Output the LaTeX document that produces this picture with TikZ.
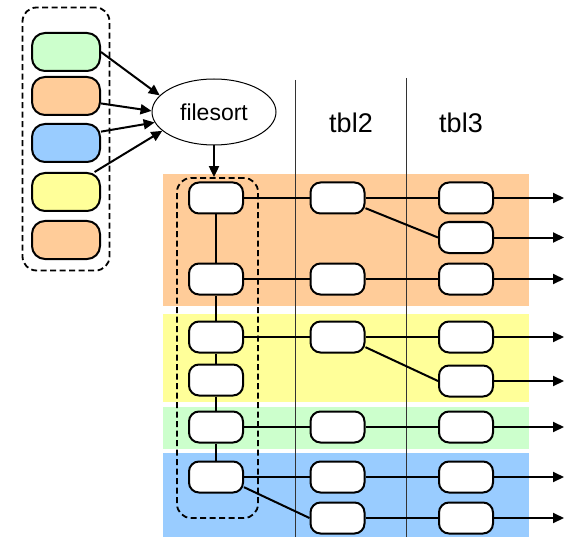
\documentclass[tikz,border=0pt]{standalone}
\usepackage{fontspec}
\setmainfont{Liberation Sans}
\usetikzlibrary{arrows.meta,shapes.geometric}
\definecolor{cgreen}{HTML}{CCFFCC}
\definecolor{corange}{HTML}{FFCC99}
\definecolor{cblue}{HTML}{99CCFF}
\definecolor{cyellow}{HTML}{FFFF99}
\tikzset{
  pill/.style={draw, line width=2pt, rounded corners=13pt, minimum width=68pt, minimum height=38pt, inner sep=0pt},
  row/.style={draw, line width=2pt, fill=white, rounded corners=10pt, minimum width=54pt, minimum height=31pt, inner sep=0pt},
  link/.style={line width=2pt},
  arr/.style={line width=2pt, -{Triangle[length=11pt,width=10pt]}},
  group/.style={draw, line width=1.8pt, dash pattern=on 6pt off 3.5pt, rounded corners=14pt},
  sep/.style={line width=1pt, draw=black!80},
}
\begin{document}
\begin{tikzpicture}[x=1pt, y=-1pt]
\useasboundingbox (0,0) rectangle (564,537);

% colour bands behind the rows
\fill[corange] (163,174) rectangle (529,306);
\fill[cyellow] (163,314) rectangle (529,402);
\fill[cgreen]  (163,407) rectangle (529,449);
\fill[cblue]   (163,453) rectangle (529,537);

% table column separators
\draw[sep] (295,80) -- (295,537);
\draw[sep] (406,78) -- (406,537);
\node[font=\fontsize{27}{30}\selectfont] (t2) at (351,123) {tbl2};
\node[font=\fontsize{27}{30}\selectfont] (t3) at (461,123) {tbl3};

% input runs
\node[group, minimum width=87pt, minimum height=263pt] (inbox) at (66,139) {};
\node[pill, fill=cgreen]  (p1) at (66,52)  {};
\node[pill, fill=corange] (p2) at (66,96)  {};
\node[pill, fill=cblue]   (p3) at (66,143) {};
\node[pill, fill=cyellow] (p4) at (66,192) {};
\node[pill, fill=corange] (p5) at (66,240) {};

\node[draw, ellipse, line width=1pt, minimum width=124pt, minimum height=66pt, inner sep=0pt,
      font=\fontsize{23}{26}\selectfont] (fs) at (214,112) {filesort};

\draw[arr] (p1.east) -- (fs.163);
\draw[arr] (p2.-12) -- (fs.179);
\draw[arr] (p3.18) -- (fs.190);
\draw[arr] (p4.35) -- (fs.200);

% sorted group
\node[group, minimum width=81pt, minimum height=340pt] (sbox) at (217.5,348) {};

\node[row] (a1) at (216,198) {};
\node[row] (a2) at (216,279) {};
\node[row] (a3) at (216,337) {};
\node[row] (a4) at (216,380) {};
\node[row] (a5) at (216,427) {};
\node[row] (a6) at (216,477) {};

\node[row] (b1) at (337.5,198) {};
\node[row] (b2) at (337.5,279) {};
\node[row] (b3) at (337.5,337) {};
\node[row] (b4) at (337.5,427) {};
\node[row] (b5) at (337.5,477) {};
\node[row] (b6) at (337.5,518) {};

\node[row] (c1) at (466,198) {};
\node[row] (c2) at (466,237.5) {};
\node[row] (c3) at (466,279) {};
\node[row] (c4) at (466,337) {};
\node[row] (c5) at (466,381) {};
\node[row] (c6) at (466,427) {};
\node[row] (c7) at (466,477) {};
\node[row] (c8) at (466,518) {};

\draw[arr] (fs.south) -- (sbox.north -| fs.south);

\draw[link] (a1) -- (a2) -- (a3) -- (a4) -- (a5) -- (a6);
\draw[link] (a1) -- (b1) -- (c1);
\draw[link] (b1.-20) -- (c2.west);
\draw[link] (a2) -- (b2) -- (c3);
\draw[link] (a3) -- (b3) -- (c4);
\draw[link] (b3.-20) -- (c5.west);
\draw[link] (a5) -- (b4) -- (c6);
\draw[link] (a6) -- (b5) -- (c7);
\draw[link] (a6.-20) -- (b6.west);
\draw[link] (b6) -- (c8);

\foreach \n in {1,...,8}{
  \path (c\n.east) ++(70,0) coordinate (e\n);
  \draw[arr] (c\n) -- (e\n);
}
\end{tikzpicture}
\end{document}
